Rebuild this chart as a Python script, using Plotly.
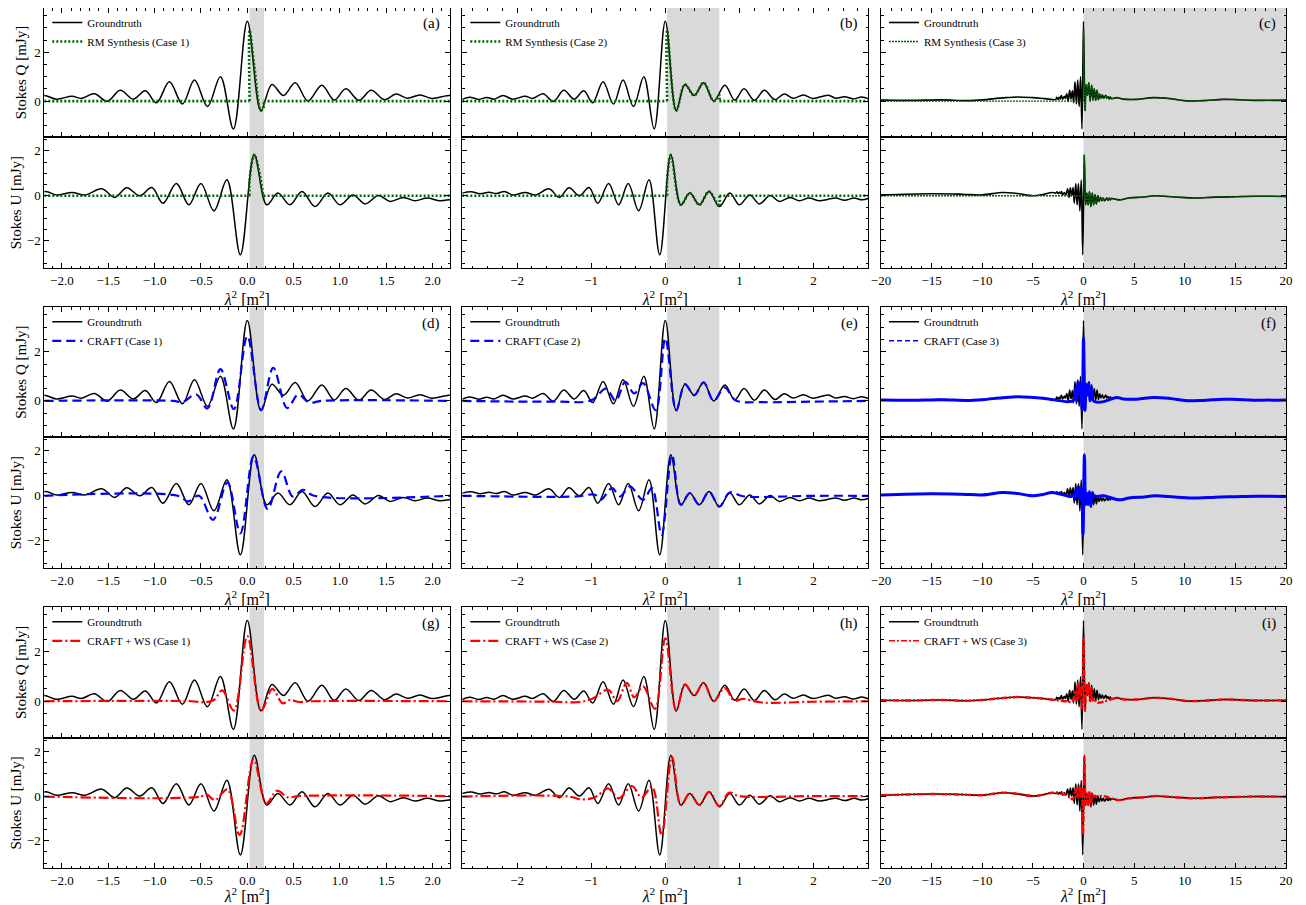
import plotly.graph_objects as go

# ---------------- data ----------------
# Groundtruth Stokes Q / U, lambda^2 in [-2.74, 2.74] (extrema)
gt_q_x = [-2.74, -2.64, -2.52, -2.41, -2.31, -2.19, -2.06, -1.89, -1.79, -1.65, -1.51, -1.37,
          -1.23, -1.10, -0.98, -0.84, -0.70, -0.57, -0.43, -0.29, -0.15, 0.0, 0.147, 0.265,
          0.39, 0.517, 0.654, 0.804, 0.937, 1.063, 1.203, 1.336, 1.48, 1.605, 1.727, 1.864,
          1.99, 2.2, 2.3, 2.42, 2.54, 2.65, 2.74]
gt_q = [0.07, 0.16, 0.07, 0.15, 0.08, 0.23, 0.08, 0.20, 0.11, 0.30, -0.01, 0.44,
        0.08, 0.42, -0.07, 0.79, -0.12, 0.86, -0.22, 1.00, -1.14, 3.27, -0.39, 0.68,
        0.23, 0.75, 0.0, 0.65, 0.04, 0.50, 0.03, 0.44, 0.06, 0.29, 0.12, 0.25,
        0.11, 0.24, 0.12, 0.18, 0.09, 0.17, 0.10]
gt_u_x = [-2.74, -2.62, -2.5, -2.38, -2.28, -2.17, -2.06, -1.89, -1.75, -1.57, -1.43, -1.30,
          -1.16, -1.03, -0.91, -0.765, -0.63, -0.50, -0.36, -0.22, -0.075, 0.075, 0.21, 0.33,
          0.46, 0.59, 0.73, 0.87, 1.0, 1.14, 1.27, 1.415, 1.54, 1.685, 1.81, 1.94,
          2.08, 2.19, 2.3, 2.42, 2.55, 2.65, 2.74]
gt_u = [0.12, 0.18, 0.09, 0.16, 0.10, 0.19, 0.04, 0.15, 0.04, 0.31, -0.07, 0.36,
        0.0, 0.37, -0.33, 0.55, -0.40, 0.55, -0.67, 0.71, -2.63, 1.83, -0.40, 0.12,
        -0.40, 0.19, -0.48, 0.12, -0.40, 0.04, -0.36, 0.01, -0.25, -0.07, -0.22, -0.10,
        -0.22, -0.16, -0.10, -0.20, -0.10, -0.18, -0.12]

# Groundtruth outside |lambda^2| > 2.74 (case 3 panels)
out_q_left_x = [-20, -17, -14, -11.5, -10, -8, -6.5, -5, -3.8]
out_q_left = [0.04, 0.03, 0.05, 0.02, 0.05, 0.13, 0.17, 0.14, 0.10]
out_q_right_x = [3.3, 3.9, 5.3, 6.9, 8.55, 10.2, 11.8, 13.8, 15.1, 16.8, 20]
out_q_right = [0.14, 0.08, 0.07, 0.14, 0.10, 0.01, 0.02, 0.07, 0.06, 0.03, 0.04]
out_u_left_x = [-20, -15, -12, -10, -8, -6.5, -5, -4, -3.1]
out_u_left = [0.04, 0.09, 0.07, 0.04, 0.15, 0.10, 0.0, 0.06, 0.15]
out_u_right_x = [3.5, 4.5, 6, 7, 9, 11, 13, 15, 17, 20]
out_u_right = [-0.18, -0.10, -0.05, 0.0, -0.05, -0.10, -0.06, -0.04, -0.02, -0.03]

# RM Synthesis (None = break in the line)
rm1_q_x = [-2.19, 0.025, None, 0.025, 0.025, 0.075, 0.147, 0.176, 0.176, None, 0.176, 2.19]
rm1_q = [0, 0, None, 0, 2.90, 1.44, -0.39, -0.25, 0, None, 0, 0]
rm1_u_x = [-2.19, 0.025, None, 0.025, 0.025, 0.075, 0.125, 0.176, 0.176, None, 0.176, 2.19]
rm1_u = [0, 0, None, 0, 0.72, 1.83, 1.15, -0.07, 0, None, 0, 0]
rm2_q_x = [-2.74, 0.025, None, 0.025, 0.025, 0.147, 0.265, 0.39, 0.517, 0.654, 0.73, 0.73, None, 0.73, 2.74]
rm2_q = [0, 0, None, 0, 2.90, -0.39, 0.68, 0.23, 0.75, 0.0, 0.25, 0, None, 0, 0]
rm2_u_x = [-2.74, 0.025, None, 0.025, 0.025, 0.075, 0.21, 0.33, 0.46, 0.59, 0.73, 0.73, None, 0.73, 2.74]
rm2_u = [0, 0, None, 0, 0.72, 1.83, -0.40, 0.12, -0.40, 0.19, -0.48, 0, None, 0, 0]
rm3_left_x = [-20, 0.0]
rm3_left = [0, 0]
rm3_q_peak = 2.90

# CRAFT
craft1_q_x = [-2.19, -0.8, -0.7, -0.55, -0.43, -0.29, -0.145, 0.0, 0.15, 0.28, 0.43, 0.55, 0.67, 0.8, 2.19]
craft1_q = [0, 0, -0.05, 0.26, -0.31, 1.29, -0.34, 2.64, -0.38, 1.35, -0.29, 0.26, -0.07, 0, 0]
craft1_u_x = [-2.19, -0.75, -0.64, -0.52, -0.37, -0.215, -0.075, 0.068, 0.22, 0.366, 0.49, 0.6, 0.72, 2.19]
craft1_u = [0, 0, -0.25, 0.0, -1.07, 0.60, -1.67, 1.76, -0.60, 1.09, -0.03, 0.27, 0.0, 0]
craft2_q_x = [-2.74, -1.5, -1.0, -0.8, -0.67, -0.54, -0.42, -0.3, -0.13, 0.0, 0.147, 0.265, 0.39,
              0.517, 0.654, 0.8, 0.95, 1.3, 2.0, 2.74]
craft2_q = [0.0, -0.03, 0.02, 0.50, 0.0, 0.78, 0.30, 0.72, -0.38, 2.55, -0.39, 0.68, 0.23,
            0.75, 0.0, 0.55, 0.02, -0.05, -0.03, 0.0]
craft2_u_x = [-2.74, -1.2, -0.95, -0.87, -0.72, -0.61, -0.48, -0.3, -0.18, -0.05, 0.09, 0.21, 0.33,
              0.46, 0.59, 0.73, 0.87, 1.05, 2.0, 2.74]
craft2_u = [0.0, -0.03, 0.05, -0.18, 0.34, -0.03, 0.42, -0.18, 0.34, -1.74, 1.83, -0.40, 0.12,
            -0.40, 0.19, -0.48, 0.15, -0.02, 0.0, 0.0]

# CRAFT + WS
ws1_q_x = [-2.19, -0.6, -0.45, -0.36, -0.27, -0.145, 0.0, 0.15, 0.27, 0.38, 0.46, 0.56, 0.7, 2.19]
ws1_q = [0, 0, -0.04, 0.05, 0.44, -0.38, 2.64, -0.38, 0.50, -0.08, 0.05, -0.03, 0, 0]
ws1_u_x = [-2.19, -0.5, -0.44, -0.35, -0.215, -0.083, 0.068, 0.205, 0.32, 0.44, 0.55, 2.19]
ws1_u = [-0.02, -0.02, 0.09, -0.18, 0.30, -1.74, 1.64, -0.33, 0.24, -0.06, 0, 0]
ws2_q_x = [-2.74, -1.5, -1.2, -1.0, -0.77, -0.65, -0.52, -0.42, -0.3, -0.14, 0.0, 0.147, 0.265,
           0.39, 0.517, 0.654, 0.8, 0.93, 1.05, 1.3, 2.0, 2.74]
ws2_q = [0.0, -0.02, -0.04, 0.08, 0.46, 0.0, 0.75, 0.16, 0.60, -0.31, 2.55, -0.39, 0.68,
         0.23, 0.75, 0.0, 0.54, 0.03, 0.10, -0.05, -0.02, 0.0]
ws2_u_x = [-2.74, -1.3, -1.13, -0.95, -0.77, -0.63, -0.45, -0.32, -0.18, -0.05, 0.09, 0.21, 0.33,
           0.46, 0.59, 0.73, 0.86, 1.0, 2.0, 2.74]
ws2_u = [-0.02, -0.02, -0.15, -0.05, 0.34, -0.10, 0.45, -0.06, 0.42, -1.74, 1.76, -0.40, 0.12,
         -0.40, 0.19, -0.45, 0.15, 0.0, 0.0, 0.0]

panel_labels = ["(a)", "(b)", "(c)", "(d)", "(e)", "(f)", "(g)", "(h)", "(i)"]
method_names = ["RM Synthesis", "CRAFT", "CRAFT + WS"]

# ---------------- derived series ----------------
gt3_q_x = out_q_left_x + gt_q_x + out_q_right_x
gt3_q = out_q_left + gt_q + out_q_right
gt3_u_x = out_u_left_x + gt_u_x + out_u_right_x
gt3_u = out_u_left + gt_u + out_u_right

pos_q = [(x, y) for x, y in zip(gt3_q_x, gt3_q) if x > 0]
pos_u = [(x, y) for x, y in zip(gt3_u_x, gt3_u) if x > 0]
rm3_q_x = rm3_left_x + [None, 0.0, 0.0] + [p[0] for p in pos_q]
rm3_q = rm3_left + [None, 0, rm3_q_peak] + [p[1] for p in pos_q]
rm3_u_x = rm3_left_x + [None, 0.0] + [p[0] for p in pos_u]
rm3_u = rm3_left + [None, 0] + [p[1] for p in pos_u]

craft3_q_x = out_q_left_x + craft2_q_x[1:-1] + out_q_right_x
craft3_q = out_q_left + craft2_q[1:-1] + out_q_right
craft3_u_x = out_u_left_x + craft2_u_x[1:-1] + out_u_right_x
craft3_u = out_u_left + craft2_u[1:-1] + out_u_right
ws3_q_x = out_q_left_x + ws2_q_x[1:-1] + out_q_right_x
ws3_q = out_q_left + ws2_q[1:-1] + out_q_right
ws3_u_x = out_u_left_x + ws2_u_x[1:-1] + out_u_right_x
ws3_u = out_u_left + ws2_u[1:-1] + out_u_right

gt_cols = [(gt_q_x, gt_q, gt_u_x, gt_u), (gt_q_x, gt_q, gt_u_x, gt_u), (gt3_q_x, gt3_q, gt3_u_x, gt3_u)]
preds = [
    [(rm1_q_x, rm1_q, rm1_u_x, rm1_u), (rm2_q_x, rm2_q, rm2_u_x, rm2_u), (rm3_q_x, rm3_q, rm3_u_x, rm3_u)],
    [(craft1_q_x, craft1_q, craft1_u_x, craft1_u), (craft2_q_x, craft2_q, craft2_u_x, craft2_u),
     (craft3_q_x, craft3_q, craft3_u_x, craft3_u)],
    [(ws1_q_x, ws1_q, ws1_u_x, ws1_u), (ws2_q_x, ws2_q, ws2_u_x, ws2_u), (ws3_q_x, ws3_q, ws3_u_x, ws3_u)],
]

# ---------------- styling / layout ----------------
FONT = "Liberation Serif"
OFF = 8  # page body margin
W, H = 1306 - OFF, 905 - OFF
COL_PX = [(44.3, 450.3), (462.3, 868.3), (881.0, 1286.0)]
ROW_PX = [(8.0, 137.0, 268.3), (307.3, 437.0, 568.3), (607.3, 737.5, 868.3)]
X_RANGE = [[-2.19, 2.19], [-2.74, 2.74], [-20, 20]]
X_DTICK = [0.5, 1, 5]
X_MINOR = [0.1, 0.2, 1]
X_FMT = [".1f", "", ""]
SHADE = [(0.025, 0.18), (0.025, 0.73), (0.0, 20.0)]
Q_RANGE = [-1.47, 3.81]
U_RANGE = [-3.23, 2.62]
STYLE = [
    dict(color="#006400", dash="2px,2px", width=2.6),
    dict(color="#0000ff", dash="9px,5px", width=2.2),
    dict(color="#ff0000", dash="10px,3px,2px,3px", width=2.2),
]
STYLE3 = [
    dict(color="#006400", dash="2px,1px", width=1.4),
    dict(color="#0000ff", dash="solid", width=3.0),
    dict(color="#ff0000", dash="6px,2px,2px,2px", width=2.4),
]
LEG3 = [
    dict(color="#006400", dash="2px,1px", width=1.2),
    dict(color="#0000ff", dash="5px,3px", width=1.4),
    dict(color="#ff0000", dash="6px,2px,2px,2px", width=1.4),
]


def clamp(v):
    return min(1.0, max(0.0, v))


def px_x(v):
    return clamp((v - OFF) / W)


def px_y(v):
    return clamp(1 - (v - OFF) / H)


def axname(letter, k):
    return f"{letter}axis" if k == 1 else f"{letter}axis{k}"


def axref(letter, k):
    return letter if k == 1 else f"{letter}{k}"


fig = go.Figure()
layout = dict(
    width=W, height=H, margin=dict(l=0, r=0, t=0, b=0),
    paper_bgcolor="white", plot_bgcolor="white",
    font=dict(family=FONT, color="black", size=13),
    showlegend=True, shapes=[], annotations=[],
)

for r in range(3):
    for c in range(3):
        p = r * 3 + c
        qa, ua = 2 * p + 1, 2 * p + 2
        x0, x1 = COL_PX[c]
        top, mid, bot = ROW_PX[r]
        leg = "legend" if p == 0 else f"legend{p + 1}"

        common_x = dict(
            domain=[px_x(x0), px_x(x1)], range=X_RANGE[c], dtick=X_DTICK[c], tick0=0,
            ticks="inside", ticklen=5, tickwidth=1, tickcolor="black",
            showline=True, linecolor="black", linewidth=1, showgrid=False, zeroline=False,
            minor=dict(dtick=X_MINOR[c], tick0=0, ticks="inside", ticklen=2.5, tickwidth=1,
                       tickcolor="black", showgrid=False),
            automargin=False, tickfont=dict(size=13, family=FONT),
        )
        if X_FMT[c]:
            common_x["tickformat"] = X_FMT[c]
        layout[axname("x", qa)] = dict(common_x, anchor=axref("y", qa), mirror="allticks",
                                       showticklabels=False)
        layout[axname("x", ua)] = dict(
            common_x, anchor=axref("y", ua), mirror=True, showticklabels=True,
            title=dict(text="<i>λ</i><sup>2</sup> [m<sup>2</sup>]", font=dict(size=16, family=FONT),
                       standoff=1),
        )
        common_y = dict(
            dtick=2, tick0=0, ticks="inside", ticklen=5, tickwidth=1, tickcolor="black",
            mirror="allticks", showline=True, linecolor="black", linewidth=1,
            showgrid=False, zeroline=False,
            minor=dict(dtick=0.5, tick0=0, ticks="inside", ticklen=2.5, tickwidth=1,
                       tickcolor="black", showgrid=False),
            showticklabels=(c == 0), automargin=False, tickfont=dict(size=13, family=FONT),
        )
        yq = dict(common_y, domain=[px_y(mid), px_y(top)], range=Q_RANGE, anchor=axref("x", qa))
        yu = dict(common_y, domain=[px_y(bot), px_y(mid)], range=U_RANGE, anchor=axref("x", ua))
        if c == 0:
            yq["title"] = dict(text="Stokes Q [mJy]", font=dict(size=15, family=FONT), standoff=3)
            yu["title"] = dict(text="Stokes U [mJy]", font=dict(size=15, family=FONT), standoff=3)
        layout[axname("y", qa)] = yq
        layout[axname("y", ua)] = yu

        s0, s1 = SHADE[c]
        for k in (qa, ua):
            layout["shapes"].append(dict(
                type="rect", xref=axref("x", k), yref=axref("y", k) + " domain",
                x0=s0, x1=s1, y0=0, y1=1, fillcolor="#d9d9d9", line=dict(width=0), layer="below",
            ))

        layout[leg] = dict(
            x=px_x(x0 + 3), y=px_y(top), xanchor="left", yanchor="top",
            bgcolor="rgba(0,0,0,0)", font=dict(size=11, family=FONT), tracegroupgap=0,
            itemwidth=30,
        )
        layout["annotations"].append(dict(
            text=panel_labels[p], x=px_x(x1 - 8), y=px_y(top + 16), xref="paper", yref="paper",
            xanchor="right", yanchor="middle", showarrow=False, font=dict(size=15, family=FONT),
        ))

        gqx, gq, gux, gu = gt_cols[c]
        gw = 1.5 if c < 2 else 1.6
        fig.add_trace(go.Scatter(x=gqx, y=gq, mode="lines", name="Groundtruth",
                                 line=dict(color="black", width=gw, shape="spline"),
                                 xaxis=axref("x", qa), yaxis=axref("y", qa), legend=leg, showlegend=True))
        fig.add_trace(go.Scatter(x=gux, y=gu, mode="lines", name="Groundtruth",
                                 line=dict(color="black", width=gw, shape="spline"),
                                 xaxis=axref("x", ua), yaxis=axref("y", ua), legend=leg, showlegend=False))

        pqx, pq, pux, pu = preds[r][c]
        name = f"{method_names[r]} (Case {c + 1})"
        st = STYLE[r] if c < 2 else STYLE3[r]
        legend_in_trace = (c < 2) or (r == 0)
        fig.add_trace(go.Scatter(x=pqx, y=pq, mode="lines", name=name,
                                 line=dict(st, shape="spline"), connectgaps=False,
                                 xaxis=axref("x", qa), yaxis=axref("y", qa), legend=leg,
                                 showlegend=legend_in_trace))
        fig.add_trace(go.Scatter(x=pux, y=pu, mode="lines", name=name,
                                 line=dict(st, shape="spline"), connectgaps=False,
                                 xaxis=axref("x", ua), yaxis=axref("y", ua), legend=leg,
                                 showlegend=False))
        if not legend_in_trace:
            fig.add_trace(go.Scatter(x=[None], y=[None], mode="lines", name=name,
                                     line=LEG3[r], xaxis=axref("x", qa), yaxis=axref("y", qa),
                                     legend=leg, showlegend=True))

fig.update_layout(layout)
fig.write_html("out.html")
